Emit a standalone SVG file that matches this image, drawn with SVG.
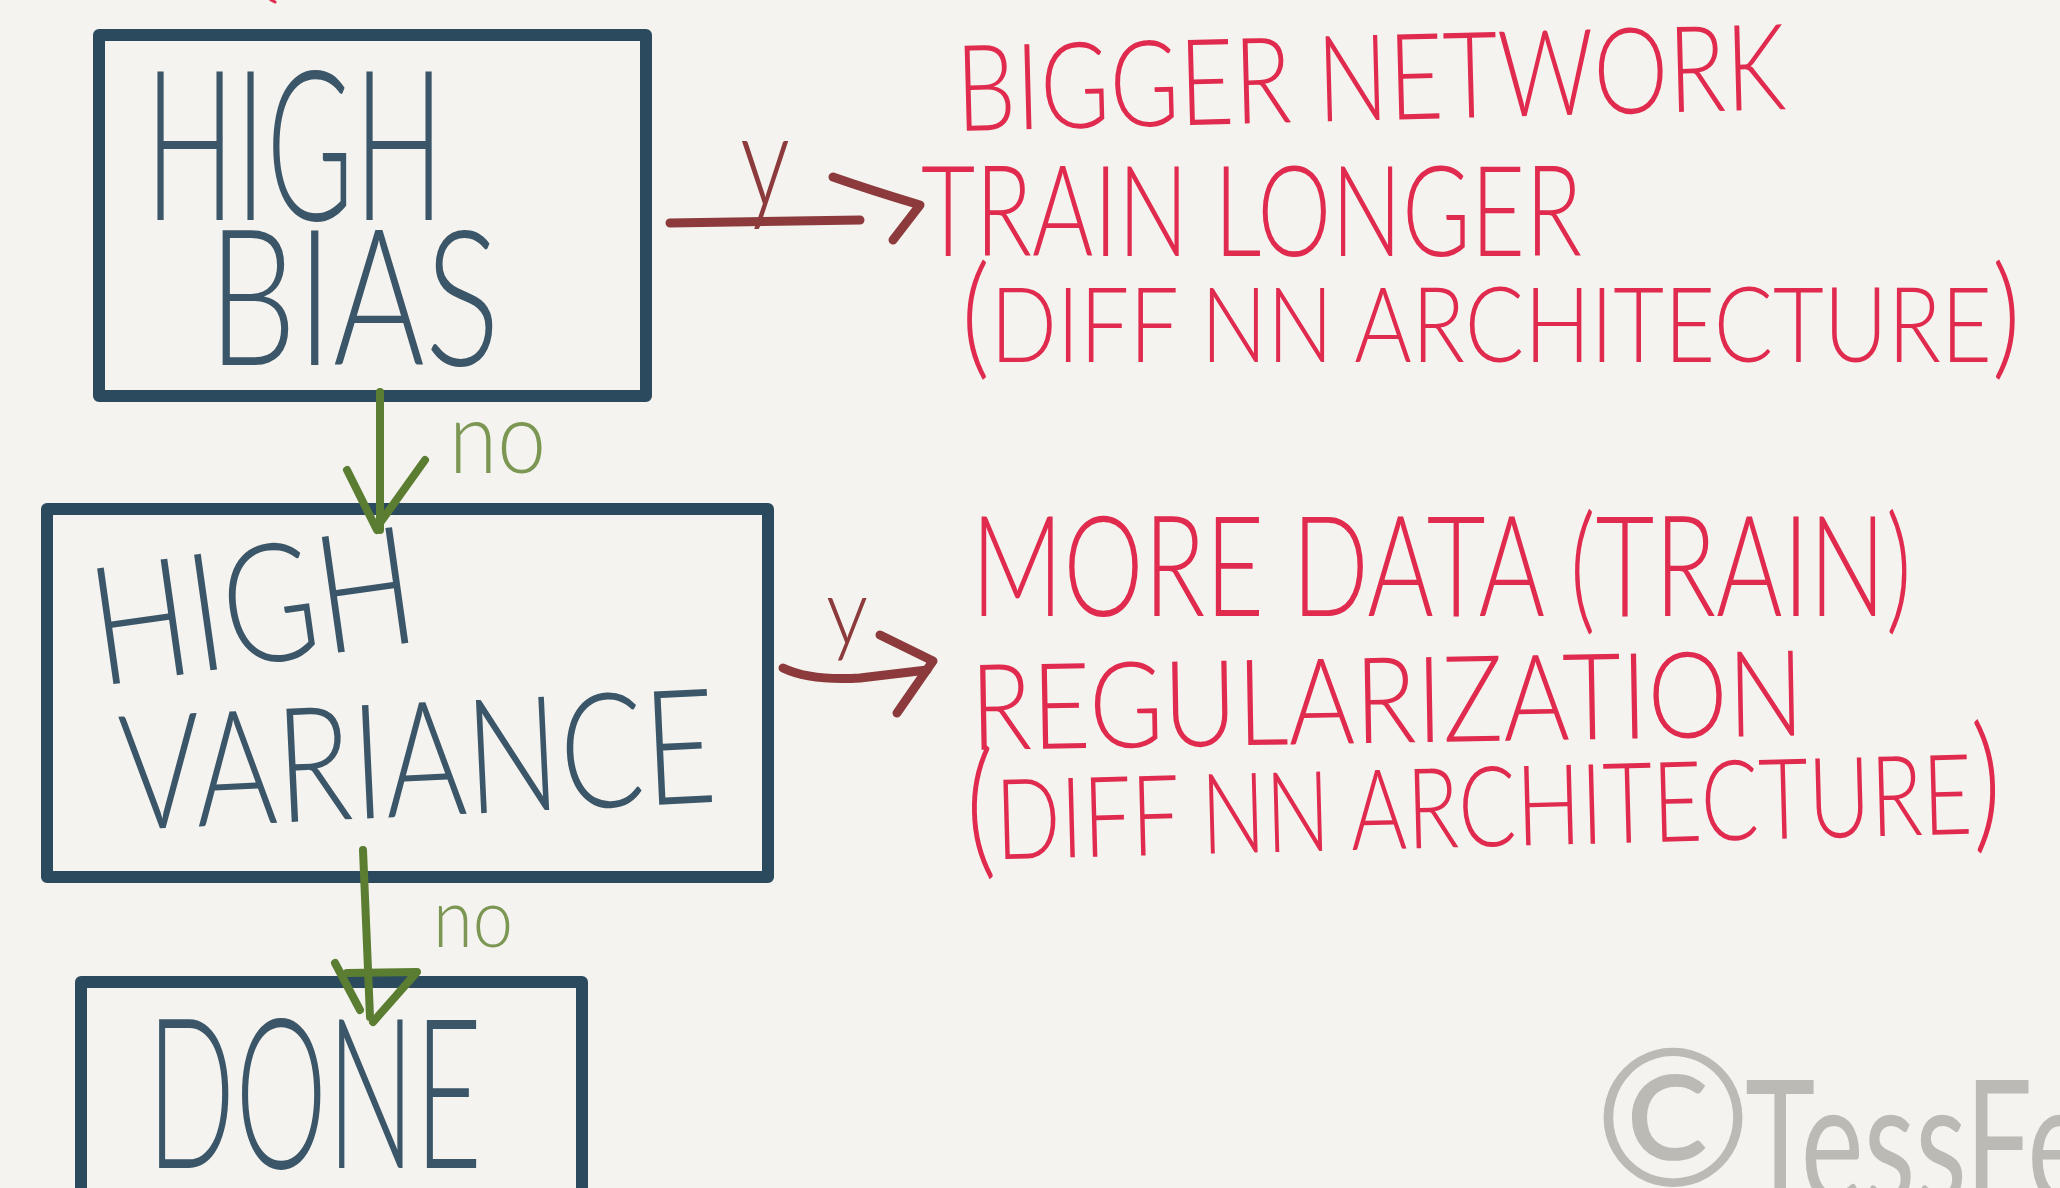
<svg xmlns="http://www.w3.org/2000/svg" width="2060" height="1188" viewBox="0 0 2060 1188">
  <style>
    .box { fill: none; stroke: #2c4a5d; stroke-width: 12; stroke-linejoin: round; stroke-linecap: round; }
    .btxt { fill: #3b5668; font-family: Lato, "Open Sans", "DejaVu Sans", sans-serif; font-weight: 300; }
    .rtxt { fill: #e02a4e; font-family: Lato, "Open Sans", "DejaVu Sans", sans-serif; font-weight: 300; }
    .yes { fill: none; stroke: #8c3a3b; stroke-width: 9; stroke-linecap: round; stroke-linejoin: round; }
    .ylab { fill: #8c3a3b; font-family: Lato, "Open Sans", "DejaVu Sans", sans-serif; font-weight: 300; }
    .no { fill: none; stroke: #5b7d32; stroke-width: 8; stroke-linecap: round; stroke-linejoin: round; }
    .nolab { fill: #7b9753; font-family: Lato, "Open Sans", "DejaVu Sans", sans-serif; font-weight: 300; }
    .mark { fill: #bcbab4; font-family: Lato, "Open Sans", "DejaVu Sans", sans-serif; font-weight: 400; }
  </style>

  <rect width="2060" height="1188" fill="#f4f3ef"/>

  <!-- stray pen mark at the top edge -->
  <path d="M271,0 L275,2" stroke="#e02a4e" stroke-width="3" stroke-linecap="round" fill="none"/>

  <g id="high-bias">
    <rect class="box" x="99" y="35" width="547" height="361"/>
    <text class="btxt" x="145" y="220" font-size="210" textLength="299" lengthAdjust="spacingAndGlyphs">HIGH</text>
    <text class="btxt" x="208" y="365" font-size="190" textLength="292" lengthAdjust="spacingAndGlyphs">BIAS</text>
  </g>

  <g id="high-variance">
    <rect class="box" x="47" y="509" width="721" height="368"/>
    <text class="btxt" x="100" y="686" font-size="165" textLength="325" lengthAdjust="spacingAndGlyphs" transform="rotate(-8 100 686)">HIGH</text>
    <text class="btxt" x="122" y="830" font-size="160" textLength="597" lengthAdjust="spacingAndGlyphs" transform="rotate(-2.7 122 830)">VARIANCE</text>
  </g>

  <g id="done">
    <rect class="box" x="81" y="982" width="501" height="260"/>
    <text class="btxt" x="147" y="1168" font-size="210" textLength="335" lengthAdjust="spacingAndGlyphs">DONE</text>
  </g>

  <g id="bias-fixes">
    <text class="rtxt" x="957" y="131" font-size="120" textLength="830" lengthAdjust="spacingAndGlyphs" transform="rotate(-1.5 957 131)">BIGGER NETWORK</text>
    <text class="rtxt" x="921" y="256" font-size="126" textLength="661" lengthAdjust="spacingAndGlyphs">TRAIN LONGER</text>
    <text class="rtxt" x="961" y="362" font-size="105" textLength="1060" lengthAdjust="spacingAndGlyphs"><tspan font-size="135">(</tspan>DIFF NN ARCHITECTURE<tspan font-size="135">)</tspan></text>
  </g>

  <g id="variance-fixes">
    <text class="rtxt" x="971" y="616" font-size="140" textLength="941" lengthAdjust="spacingAndGlyphs">MORE DATA (TRAIN)</text>
    <text class="rtxt" x="971" y="750" font-size="120" textLength="834" lengthAdjust="spacingAndGlyphs" transform="rotate(-1 971 750)">REGULARIZATION</text>
    <text class="rtxt" x="967" y="860" font-size="112" textLength="1036" lengthAdjust="spacingAndGlyphs" transform="rotate(-1.5 967 860)"><tspan font-size="150">(</tspan>DIFF NN ARCHITECTURE<tspan font-size="150">)</tspan></text>
  </g>

  <g id="connectors">
    <!-- high bias: yes -->
    <path class="yes" d="M670,223 L860,220"/>
    <path class="yes" d="M833,177 Q870,190 920,205 L893,240"/>
    <text class="ylab" x="740" y="206" font-size="130" textLength="50" lengthAdjust="spacingAndGlyphs">y</text>
    <!-- high bias: no -->
    <path class="no" d="M380,392 L380,530"/>
    <path class="no" stroke-width="11" d="M347,470 L377,530 M425,460 L380,523"/>
    <text class="nolab" x="449" y="473" font-size="100" textLength="97" lengthAdjust="spacingAndGlyphs">no</text>
    <!-- high variance: yes -->
    <path class="yes" d="M783,668 Q810,681 860,678 L927,670"/>
    <path class="yes" d="M880,635 L933,661 L897,713"/>
    <text class="ylab" x="826" y="644" font-size="93" textLength="42" lengthAdjust="spacingAndGlyphs">y</text>
    <!-- high variance: no -->
    <path class="no" d="M363,850 L370,1017"/>
    <path class="no" stroke-width="11" d="M335,963 L360,1010 M347,973 L417,972 L373,1022"/>
    <text class="nolab" x="433" y="947" font-size="82" textLength="80" lengthAdjust="spacingAndGlyphs">no</text>
  </g>

  <g id="signature">
    <text class="mark" x="1594" y="1186" font-size="190">©</text>
    <text class="mark" x="1745" y="1203" font-size="170" textLength="345" lengthAdjust="spacingAndGlyphs">TessFe</text>
  </g>
</svg>
